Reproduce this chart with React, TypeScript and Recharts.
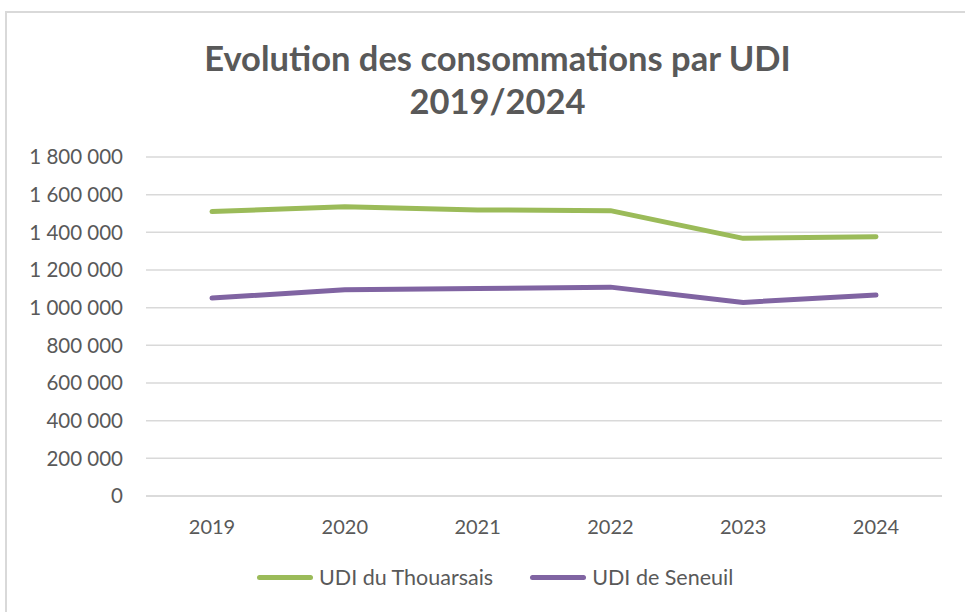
import React from "react";
import { LineChart, Line, CartesianGrid, XAxis, YAxis } from "recharts";

const years = ["2019", "2020", "2021", "2022", "2023", "2024"];
const thouarsais = [1510000, 1536000, 1519000, 1515000, 1368000, 1377000];
const seneuil = [1051000, 1095000, 1102000, 1109000, 1028000, 1067000];
const yTicks = [0, 200000, 400000, 600000, 800000, 1000000, 1200000, 1400000, 1600000, 1800000];

const series = [
  { key: "thouarsais", name: "UDI du Thouarsais", color: "#9BBB59" },
  { key: "seneuil", name: "UDI de Seneuil", color: "#8064A2" },
];

const data = years.map((year, i) => ({
  year,
  thouarsais: thouarsais[i],
  seneuil: seneuil[i],
}));

const FONT = "Lato, 'Open Sans', sans-serif";
const TEXT = "#595959";

const fmt = (v: number) => String(v).replace(/\B(?=(\d{3})+(?!\d))/g, " ");

const App = () => {
  return (
    <div
      style={{
        position: "absolute",
        left: 0,
        top: 0,
        width: 965,
        height: 612,
        overflow: "hidden",
        background: "#fff",
        fontFamily: FONT,
      }}
    >
      <div
        style={{
          position: "absolute",
          left: 5,
          top: 11,
          width: 1000,
          height: 700,
          border: "2px solid #d9d9d9",
        }}
      />
      <div
        style={{
          position: "absolute",
          left: 0,
          width: 995,
          top: 36,
          textAlign: "center",
          color: TEXT,
          fontWeight: "bold",
          fontSize: 34.5,
          lineHeight: "43px",
        }}
      >
        Evolution des consommations par UDI
        <br />
        2019/2024
      </div>
      <div style={{ position: "absolute", left: 0, top: 0 }}>
        <LineChart
          width={965}
          height={612}
          data={data}
          margin={{ top: 157, right: 23, left: 0, bottom: 56 }}
        >
          <CartesianGrid vertical={false} stroke="#d9d9d9" strokeWidth={1.5} />
          <XAxis
            dataKey="year"
            height={60}
            padding={{ left: 66, right: 66 }}
            axisLine={{ stroke: "#d9d9d9", strokeWidth: 1.5 }}
            tickLine={false}
            tickSize={0}
            tickMargin={24}
            tick={{ fill: TEXT, fontSize: 20, fontFamily: FONT }}
          />
          <YAxis
            width={146}
            domain={[0, 1800000]}
            ticks={yTicks}
            tickFormatter={fmt}
            axisLine={false}
            tickLine={false}
            tickSize={0}
            tickMargin={23}
            tick={{ fill: TEXT, fontSize: 20.5, fontFamily: FONT }}
          />
          {series.map((s) => (
            <Line
              key={s.key}
              type="linear"
              dataKey={s.key}
              name={s.name}
              stroke={s.color}
              strokeWidth={5}
              strokeLinecap="round"
              strokeLinejoin="round"
              dot={false}
              activeDot={false}
              isAnimationActive={false}
            />
          ))}
        </LineChart>
      </div>
      <div
        style={{
          position: "absolute",
          left: 257,
          top: 564,
          display: "flex",
          alignItems: "center",
          color: TEXT,
          fontSize: 21.5,
        }}
      >
        {series.map((s, i) => (
          <div
            key={s.key}
            style={{ display: "flex", alignItems: "center", marginLeft: i ? 37 : 0 }}
          >
            <span
              style={{
                display: "inline-block",
                width: 56,
                height: 5,
                borderRadius: 3,
                background: s.color,
                marginRight: 6,
              }}
            />
            <span>{s.name}</span>
          </div>
        ))}
      </div>
    </div>
  );
};

export default App;
